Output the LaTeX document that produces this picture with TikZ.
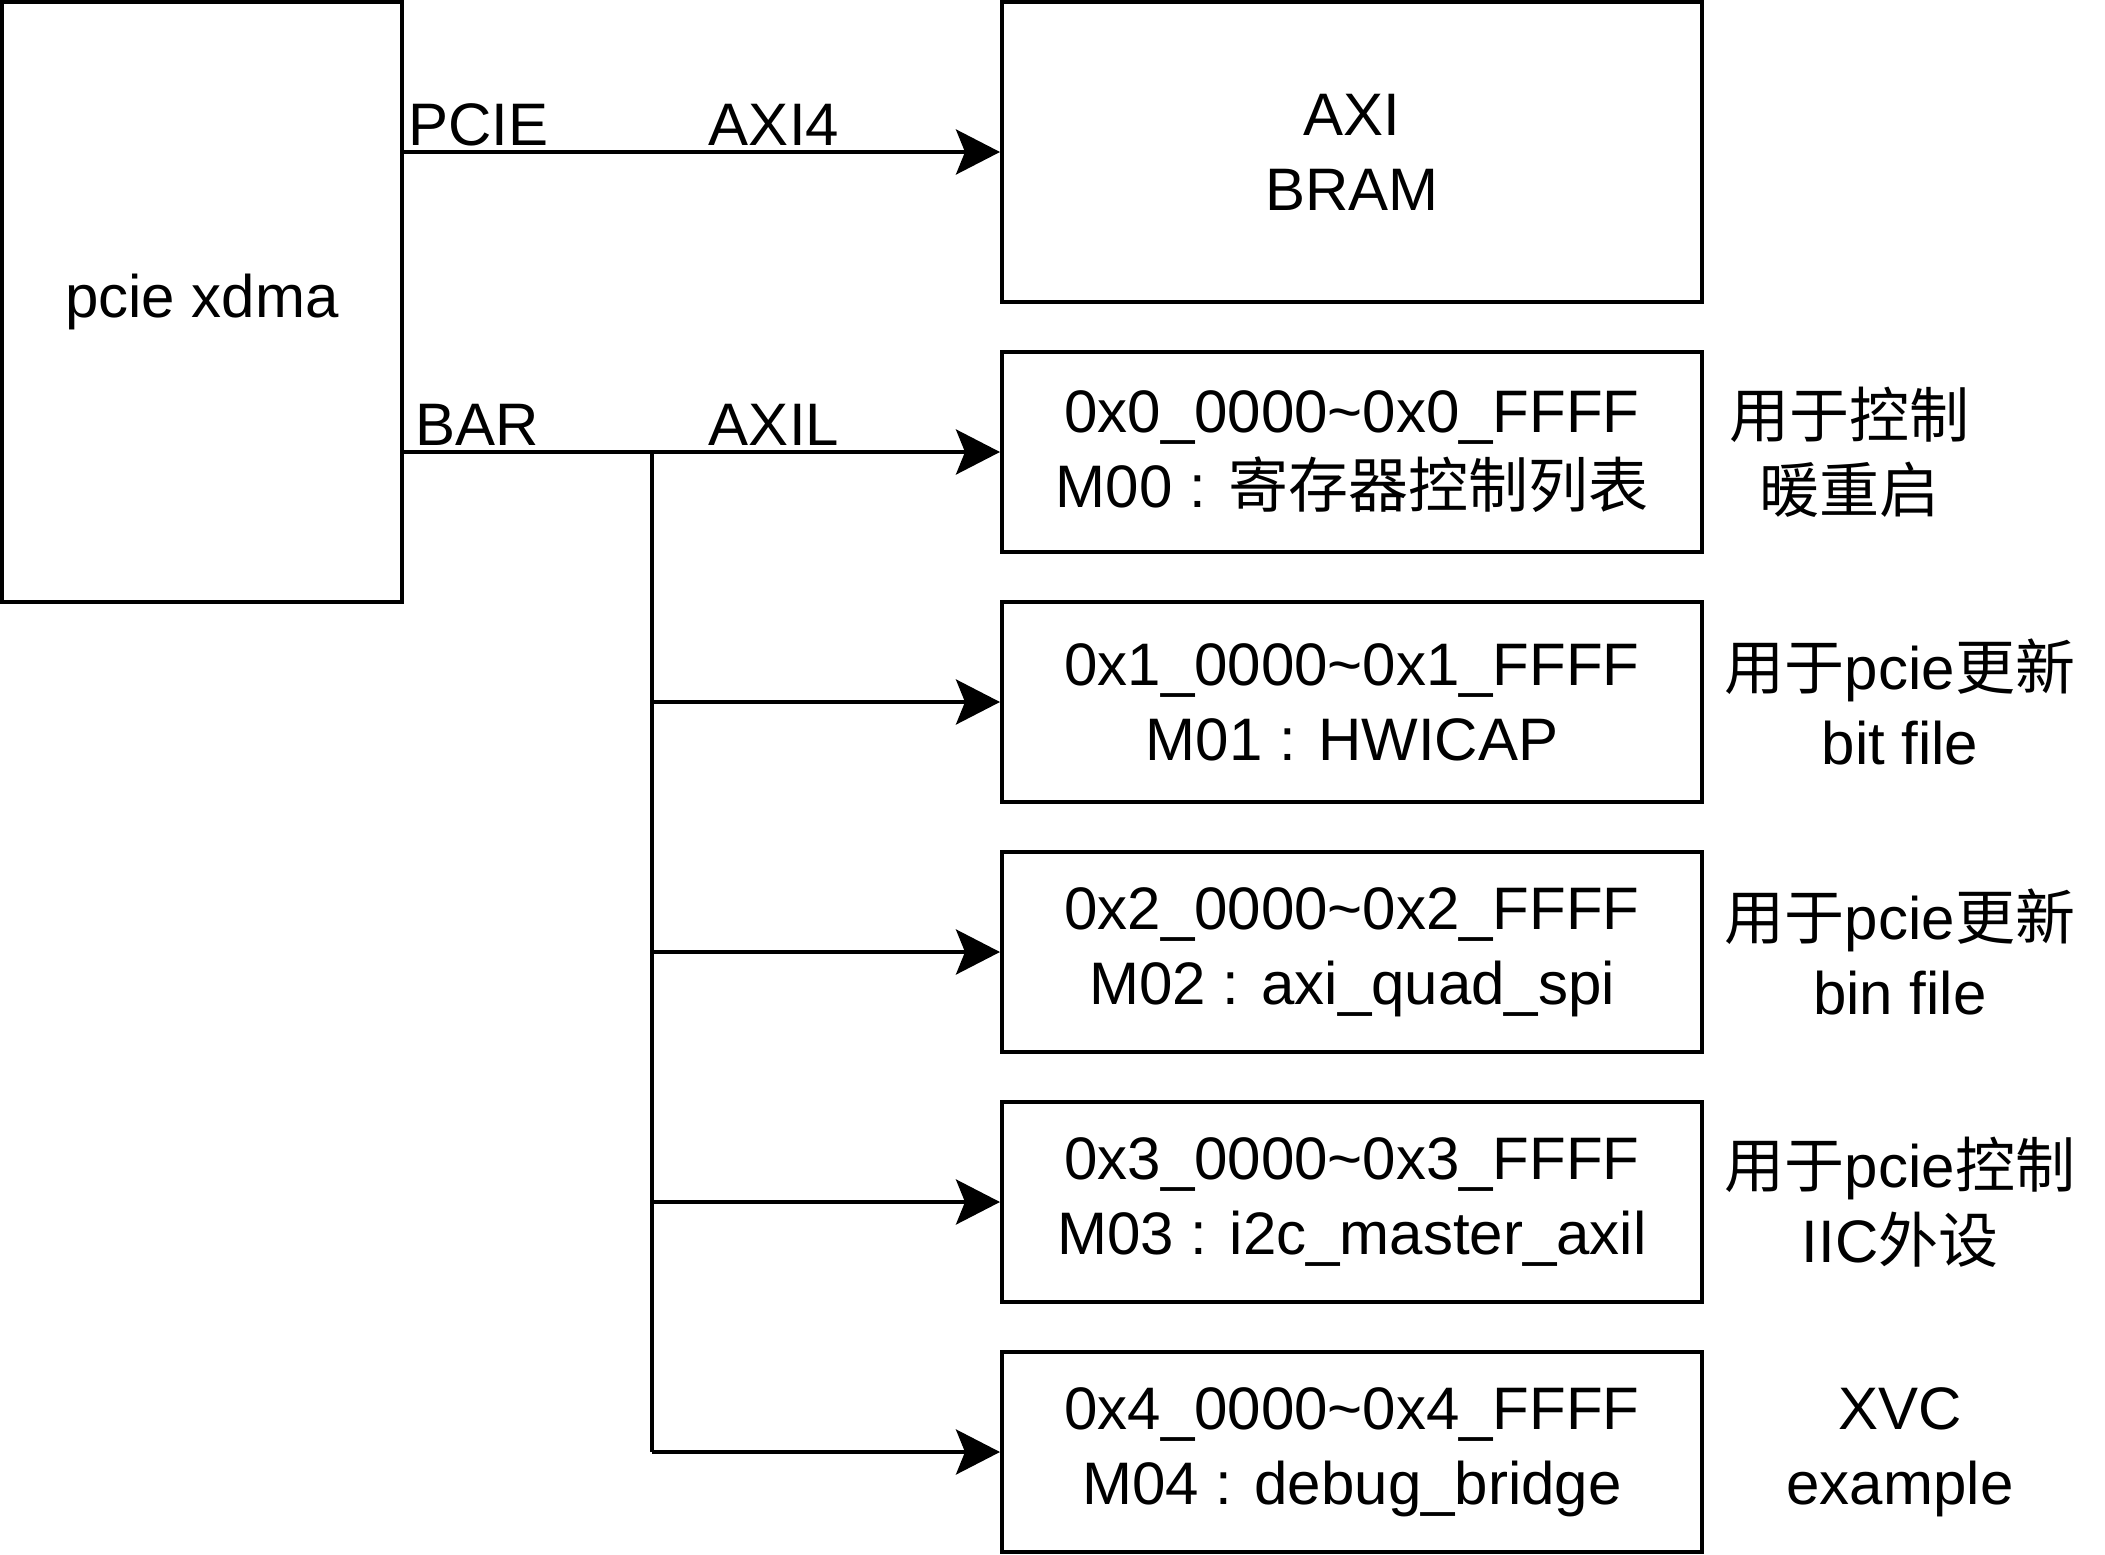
\documentclass[tikz,border=0pt]{standalone}
\usepackage{fontspec}
\setmainfont{Liberation Sans}
\newfontfamily\cjk{Noto Sans CJK SC}
\usepackage{tikz}
\usetikzlibrary{arrows.meta,positioning}

\tikzset{
  blk/.style={draw, line width=4pt, inner sep=0pt, align=center,
    minimum width=700pt, minimum height=200pt},
  conn/.style={line width=4pt, -{Stealth[length=44pt,width=45pt,inset=9pt]}},
  note/.style={inner sep=0pt, align=center}
}

\begin{document}
\begin{tikzpicture}[x=1pt, y=-1pt, font=\fontsize{60pt}{75pt}\selectfont]
            \useasboundingbox (0,0) rectangle (2105,1555);

            \node[blk, minimum width=400pt, minimum height=600pt] (xdma) at (202,302) {pcie xdma};
            \node[blk, minimum height=300pt] (bram) at (1352,152) {AXI\\BRAM};

            \node[blk] (m0) at (1352,452) {0x0\_0000\textasciitilde0x0\_FFFF\\M00 : {\cjk 寄存器控制列表}};
            \node[blk] (m1) at (1352,702) {0x1\_0000\textasciitilde0x1\_FFFF\\M01 : HWICAP};
            \node[blk] (m2) at (1352,952) {0x2\_0000\textasciitilde0x2\_FFFF\\M02 : axi\_quad\_spi};
            \node[blk] (m3) at (1352,1202) {0x3\_0000\textasciitilde0x3\_FFFF\\M03 : i2c\_master\_axil};
            \node[blk] (m4) at (1352,1452) {0x4\_0000\textasciitilde0x4\_FFFF\\M04 : debug\_bridge};

            % notes on the right
            \node[note] (n0) at (1849,452) {{\cjk 用于控制}\\{\cjk 暖重启}};
            \node[note] (n1) at (1900,702) {{\cjk 用于}pcie{\cjk 更新}\\bit file};
            \node[note] (n2) at (1900,952) {{\cjk 用于}pcie{\cjk 更新}\\bin file};
            \node[note] (n3) at (1900,1202) {{\cjk 用于}pcie{\cjk 控制}\\IIC{\cjk 外设}};
            \node[note] (n4) at (1900,1452) {XVC\\example};

            % buses
            \draw[conn] (xdma.east |- bram.west) -- (bram.west);
            \draw[conn] (xdma.east |- m0.west) -- (m0.west);
            \coordinate (split) at (652,452);
            \draw[line width=4pt] (split) -- (split |- m4.west);
            \draw[conn] (split |- m1.west) -- (m1.west);
            \draw[conn] (split |- m2.west) -- (m2.west);
            \draw[conn] (split |- m3.west) -- (m3.west);
            \draw[conn] (split |- m4.west) -- (m4.west);

            \node[note, anchor=base west] (pcie) at (408,145) {PCIE};
            \node[note, anchor=base] (axi4) at (774,145) {AXI4};
            \node[note, anchor=base west] (bar) at (415,445) {BAR};
            \node[note, anchor=base] (axil) at (774,445) {AXIL};
        \end{tikzpicture}
\end{document}
